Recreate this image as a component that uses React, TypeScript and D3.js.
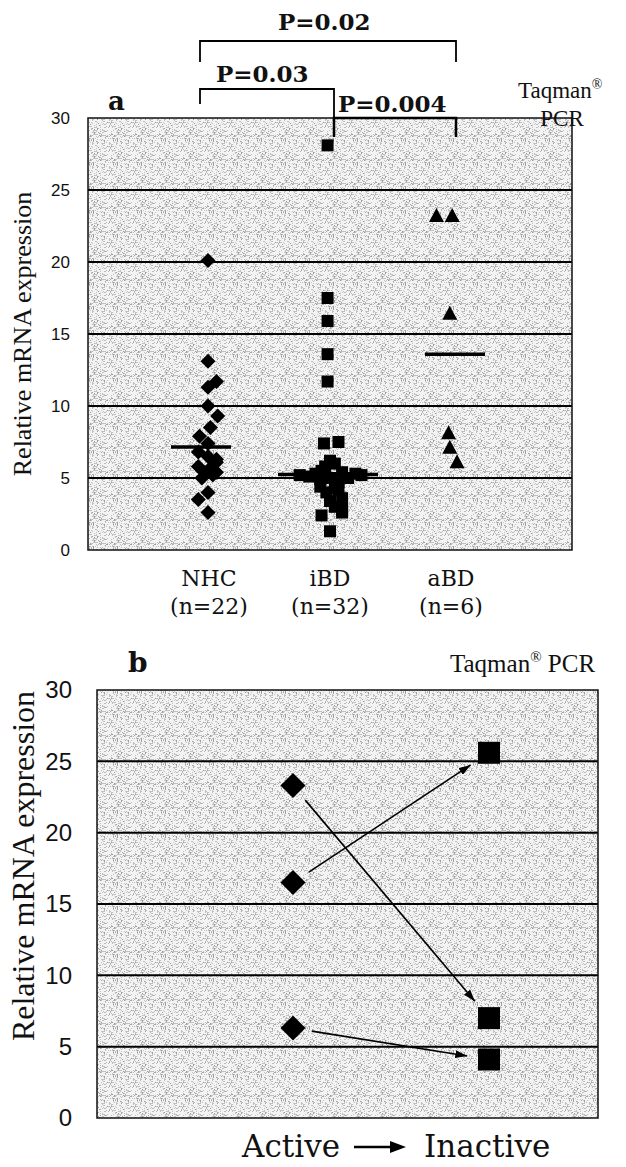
import React from "react";
import * as d3 from "d3";

// ---------- data ----------
const groups = ["NHC", "iBD", "aBD"];
const groupCounts = ["(n=22)", "(n=32)", "(n=6)"];
const yTicks = [0, 5, 10, 15, 20, 25, 30];

const nhcValues = [20.1, 13.1, 11.7, 11.3, 10.0, 9.3, 8.5, 7.9, 7.4, 6.8, 6.5, 6.3, 6.1, 5.8, 5.7, 5.4, 5.4, 5.2, 5.0, 4.0, 3.5, 2.6];
const nhcJitter = [0, 0, 0.07, 0, 0, 0.08, 0.02, -0.07, 0, -0.08, 0, 0.07, 0.07, -0.08, 0.02, -0.03, 0.07, 0.04, -0.05, 0, -0.08, 0];

const ibdValues = [28.1, 17.5, 15.9, 13.6, 11.7, 7.5, 7.4, 6.2, 6.0, 5.8, 5.5, 5.4, 5.3, 5.3, 5.2, 5.2, 5.1, 5.0, 5.0, 4.9, 4.7, 4.4, 4.3, 4.2, 4.0, 3.6, 3.4, 3.0, 2.8, 2.6, 2.4, 1.3];
const ibdJitter = [-0.02, -0.02, -0.02, -0.02, -0.02, 0.07, -0.05, 0, 0.04, -0.04, -0.07, 0.1, -0.12, 0.21, -0.25, 0.26, -0.17, 0.15, 0, -0.08, 0.07, -0.08, 0.04, 0.07, -0.03, 0.1, 0, 0.04, 0.1, 0.1, -0.07, 0];

const abdValues = [23.2, 23.2, 16.4, 8.1, 7.1, 6.1];
const abdJitter = [-0.12, 0.01, -0.01, -0.02, -0.01, 0.05];

const medians = [7.15, 5.25, 13.6];

const comparisons = [
  { from: "NHC", to: "aBD", label: "P=0.02" },
  { from: "NHC", to: "iBD", label: "P=0.03" },
  { from: "iBD", to: "aBD", label: "P=0.004" },
];

const stages = ["Active", "Inactive"];
const activeValues = [23.3, 16.5, 6.3];
const inactiveValues = [7.0, 25.6, 4.1];

// ---------- layout ----------
const W = 626;
const H = 1167;
const serif = "'DejaVu Serif', serif";
const times = "'Liberation Serif', 'Times New Roman', serif";
const sans = "'Liberation Sans', Arial, sans-serif";

const A = { left: 88, right: 572, top: 118, bottom: 550 };
const B = { left: 97, right: 598, top: 690, bottom: 1118 };

const xA = d3.scalePoint<string>().domain(groups).range([A.left, A.right]).padding(1);
const yA = d3.scaleLinear().domain([0, 30]).range([A.bottom, A.top]);
const stepA = xA.step();

const xB = d3.scalePoint<string>().domain(stages).range([293, 489]);
const yB = d3.scaleLinear().domain([0, 30]).range([B.bottom, B.top]);

const diamond = (x: number, y: number, r: number) =>
  `M${x},${y - r}L${x + r},${y}L${x},${y + r}L${x - r},${y}Z`;
const triangle = (x: number, y: number) =>
  `M${x},${y - 8}L${x + 7.5},${y + 6}L${x - 7.5},${y + 6}Z`;

// grain texture for the plot background (pure decoration)
const TILE = 24;
const grain: { x: number; y: number; c: string }[] = (() => {
  const out: { x: number; y: number; c: string }[] = [];
  let s = 12345;
  const rnd = () => {
    s = (s * 1103515245 + 12345) & 0x7fffffff;
    return s / 0x7fffffff;
  };
  for (let yy = 0; yy < TILE; yy++)
    for (let xx = 0; xx < TILE; xx++) {
      const r = rnd();
      if (r < 0.3) out.push({ x: xx, y: yy, c: r < 0.08 ? "#a0a0a0" : "#c0c0c0" });
    }
  return out;
})();

function Grid({ box, y }: { box: typeof A; y: d3.ScaleLinear<number, number> }) {
  return (
    <g>
      <rect x={box.left} y={box.top} width={box.right - box.left} height={box.bottom - box.top}
        fill="url(#stip)" />
      {yTicks.filter((t) => t > 0 && t < 30).map((t) => (
        <line key={t} x1={box.left} x2={box.right} y1={y(t)} y2={y(t)} stroke="#000" strokeWidth={2} />
      ))}
      <rect x={box.left} y={box.top} width={box.right - box.left} height={box.bottom - box.top}
        fill="none" stroke="#111" strokeWidth={1.5} />
    </g>
  );
}

export default function App() {
  const bracketX: Record<string, number> = {
    NHC: xA("NHC")! - 9,
    iBD: xA("iBD")! + 4,
    aBD: xA("aBD")! + 5,
  };
  const bracketGeom = [
    { top: 41, drop: [62, 62], tx: 278, ty: 30 },
    { top: 89, drop: [104, A.top], tx: 216, ty: 82 },
    { top: A.top, drop: [137, 137], tx: 338, ty: 112 },
  ];

  const arrows = activeValues.map((v, i) => {
    const x0 = xB("Active")!, y0 = yB(v);
    const x1 = xB("Inactive")!, y1 = yB(inactiveValues[i]);
    const dx = x1 - x0, dy = y1 - y0;
    const len = Math.hypot(dx, dy);
    const ux = dx / len, uy = dy / len;
    return { sx: x0 + ux * 19, sy: y0 + uy * 19, ex: x1 - ux * 22, ey: y1 - uy * 22 };
  });

  return (
    <svg width={W} height={H} style={{ position: "absolute", left: 0, top: 0, background: "#fff" }}>
      <defs>
        <pattern id="stip" width={TILE} height={TILE} patternUnits="userSpaceOnUse">
          <rect width={TILE} height={TILE} fill="#f3f3f3" />
          {grain.map((p, i) => (
            <rect key={i} x={p.x} y={p.y} width={1} height={1} fill={p.c} />
          ))}
        </pattern>
        <marker id="ah" viewBox="0 0 12 8" refX="12" refY="4" markerWidth="12" markerHeight="8"
          markerUnits="userSpaceOnUse" orient="auto">
          <path d="M0,0L12,4L0,8Z" fill="#000" />
        </marker>
      </defs>

      {/* ---------------- Panel a ---------------- */}
      <Grid box={A} y={yA} />
      {yTicks.map((t) => (
        <text key={t} x={70} y={yA(t)} dy="0.35em" textAnchor="end" fontFamily={sans} fontSize={17} fill="#111">{t}</text>
      ))}
      <text transform={`translate(31,${(A.top + A.bottom) / 2}) rotate(-90)`} textAnchor="middle"
        fontFamily={times} fontSize={26} fill="#111">Relative mRNA expression</text>

      {groups.map((g, i) => (
        <g key={g}>
          <text x={xA(g)} y={586} textAnchor="middle" fontFamily={serif} fontSize={22} fill="#111">{g}</text>
          <text x={xA(g)} y={614} textAnchor="middle" fontFamily={serif} fontSize={22} fill="#111">{groupCounts[i]}</text>
        </g>
      ))}

      {nhcValues.map((v, i) => (
        <path key={"n" + i} d={diamond(xA("NHC")! + nhcJitter[i] * stepA - 1, yA(v), 7.5)} fill="#000" />
      ))}
      {ibdValues.map((v, i) => (
        <rect key={"i" + i} x={xA("iBD")! + ibdJitter[i] * stepA - 6} y={yA(v) - 6} width={12} height={12} fill="#000" />
      ))}
      {abdValues.map((v, i) => (
        <path key={"a" + i} d={triangle(xA("aBD")! + abdJitter[i] * stepA, yA(v))} fill="#000" />
      ))}

      <line x1={xA("NHC")! - 38} x2={xA("NHC")! + 22} y1={yA(medians[0])} y2={yA(medians[0])} stroke="#000" strokeWidth={3.5} />
      <line x1={xA("iBD")! - 52} x2={xA("iBD")! + 48} y1={yA(medians[1])} y2={yA(medians[1])} stroke="#000" strokeWidth={3.5} />
      <line x1={xA("aBD")! - 26} x2={xA("aBD")! + 34} y1={yA(medians[2])} y2={yA(medians[2])} stroke="#000" strokeWidth={3.5} />

      {comparisons.map((c, i) => {
        const g = bracketGeom[i];
        const x1 = bracketX[c.from], x2 = bracketX[c.to];
        return (
          <g key={c.label}>
            <path d={`M${x1},${g.drop[0]}V${g.top}H${x2}V${g.drop[1]}`} fill="none" stroke="#000" strokeWidth={i === 2 ? 2.5 : 1.8} />
            <text x={g.tx} y={g.ty} fontFamily={serif} fontWeight="bold" fontSize={23} fill="#111">{c.label}</text>
          </g>
        );
      })}

      <text x={108} y={110} fontFamily={serif} fontWeight="bold" fontSize={26} fill="#111">a</text>
      <text x={518} y={98} fontFamily={times} fontSize={23} fill="#111">Taqman<tspan fontSize={14} dy={-9}>®</tspan></text>
      <text x={562} y={126} textAnchor="middle" fontFamily={times} fontSize={23} fill="#111">PCR</text>

      {/* ---------------- Panel b ---------------- */}
      <Grid box={B} y={yB} />
      {yTicks.map((t) => (
        <text key={"b" + t} x={72} y={yB(t)} dy="0.35em" textAnchor="end" fontFamily={sans} fontSize={24} fill="#111">{t}</text>
      ))}
      <text transform={`translate(34,866) rotate(-90)`} textAnchor="middle"
        fontFamily={times} fontSize={32} fill="#111">Relative mRNA expression</text>

      <text x={128} y={672} fontFamily={serif} fontWeight="bold" fontSize={28} fill="#111">b</text>
      <text x={450} y={672} fontFamily={times} fontSize={25} fill="#111">Taqman<tspan fontSize={15} dy={-10}>®</tspan><tspan dy={10}> PCR</tspan></text>

      {arrows.map((a, i) => (
        <line key={"ar" + i} x1={a.sx} y1={a.sy} x2={a.ex} y2={a.ey} stroke="#000" strokeWidth={1.6} markerEnd="url(#ah)" />
      ))}
      {activeValues.map((v, i) => (
        <path key={"bd" + i} d={diamond(xB("Active")!, yB(v), 12.5)} fill="#000" />
      ))}
      {inactiveValues.map((v, i) => (
        <rect key={"bs" + i} x={xB("Inactive")! - 11} y={yB(v) - 11} width={22} height={22} fill="#000" />
      ))}

      <text x={340} y={1157} textAnchor="end" fontFamily={serif} fontSize={31} fill="#111">{stages[0]}</text>
      <line x1={354} x2={392} y1={1147} y2={1147} stroke="#000" strokeWidth={2.5} />
      <path d="M390,1141L406,1147L390,1153Z" fill="#000" />
      <text x={424} y={1157} fontFamily={serif} fontSize={31} fill="#111">{stages[1]}</text>
    </svg>
  );
}
